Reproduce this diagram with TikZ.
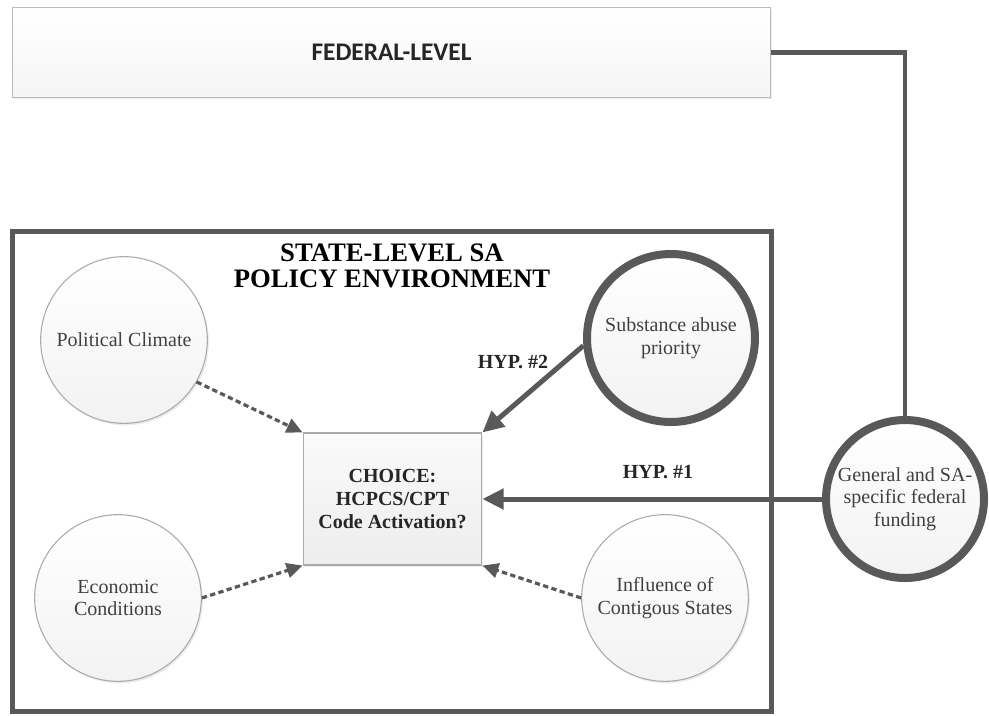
\documentclass[tikz,border=0pt]{standalone}
\usepackage{fontspec}
\setmainfont{Liberation Serif}
\newfontfamily\fedfont{Carlito}
\usepackage{tikz}
\usetikzlibrary{arrows.meta,shadows}
\definecolor{framegray}{HTML}{595959}
\definecolor{rimgray}{HTML}{AAAAAA}
\definecolor{textgray}{HTML}{404040}
\definecolor{inkgray}{HTML}{262626}

\begin{document}
\begin{tikzpicture}[x=0.75pt,y=-0.75pt,
                every node/.style={inner sep=0pt},
                softshadow/.style={drop shadow={opacity=0.15,shadow xshift=1.2pt,shadow yshift=-1.5pt}},
                factor/.style={circle,draw=rimgray,line width=0.8pt,minimum size=125pt,
                  top color=white,bottom color=black!5,softshadow,
                  text=textgray,align=center,font=\fontsize{15}{17}\selectfont},
                keyfactor/.style={factor,draw=framegray,line width=6pt,minimum size=126pt},
                choicebox/.style={rectangle,draw=rimgray,line width=0.8pt,minimum width=134pt,
                  minimum height=99pt,top color=black!2,bottom color=black!7,softshadow,
                  text=inkgray,align=center,font=\bfseries\fontsize{15}{17}\selectfont},
                levelbox/.style={rectangle,draw=rimgray!80,line width=0.8pt,minimum width=569pt,
                  minimum height=67pt,top color=white,bottom color=black!4,softshadow,
                  text=inkgray,font=\fedfont\bfseries\fontsize{19}{22}\selectfont},
                hyplabel/.style={text=inkgray,font=\bfseries\fontsize{15}{17}\selectfont},
                hyparrow/.style={draw=framegray,line width=3.75pt,-{Triangle[length=16pt,width=15pt]}},
                weakarrow/.style={draw=framegray,line width=2.4pt,dash pattern=on 4pt off 2.5pt,
                  -{Triangle[length=12pt,width=11pt]}},
                fedline/.style={draw=framegray,line width=3.3pt}]
                \useasboundingbox (0,0) rectangle (989,715);
                % state frame
                \draw [framegray, line width=3.75pt] (12,231) rectangle (771,711);
                \node [font=\bfseries\fontsize{20}{19}\selectfont, text=black, align=center] (title) at (392,266) {STATE-LEVEL SA\\POLICY ENVIRONMENT};
                % federal level
                \node [levelbox] (federal) at (391.5,52.5) {FEDERAL-LEVEL};
                % factors
                \node [factor] (political) at (124,340) {Political Climate};
                \node [factor] (economic) at (118,598) {Economic\\Conditions};
                \node [factor] (contiguous) at (665,598) {Influence of\\Contigous States};
                \node [keyfactor] (priority) at (671,338) {Substance abuse\\priority};
                \node [keyfactor, minimum size=118.5pt] (funding) at (905,499) {General and SA-\\specific federal\\funding};
                \node [choicebox] (choice) at (392.5,499) {CHOICE:\\HCPCS/CPT\\Code Activation?};
                % connectors
                \draw [fedline] (federal.east) -| (funding.north);
                \draw [hyparrow] (funding.west) -- (choice.east);
                \draw [hyparrow] (priority.185) -- (choice.north east);
                \draw [weakarrow] (political.-30) -- (choice.north west);
                \draw [weakarrow] (economic.east) -- (choice.south west);
                \draw [weakarrow] (contiguous.west) -- (choice.south east);
                \node [hyplabel] (hyptwo) at (513,362) {HYP. \#2};
                \node [hyplabel] (hypone) at (658,472) {HYP. \#1};
\end{tikzpicture}
\end{document}
